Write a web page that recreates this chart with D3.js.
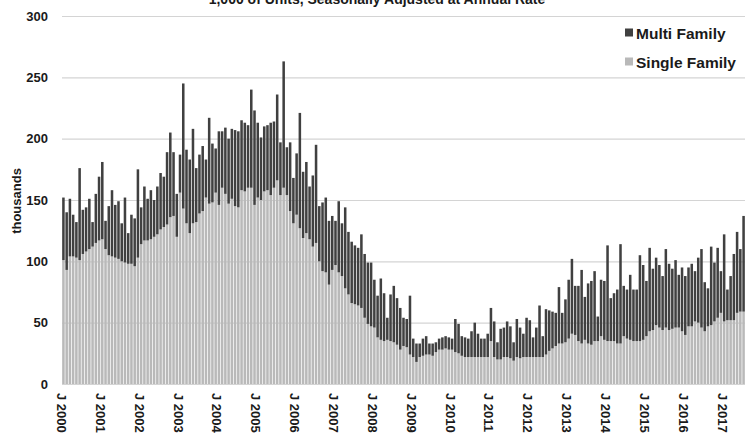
<!DOCTYPE html>
<html>
<head>
<meta charset="utf-8">
<script src="https://cdn.jsdelivr.net/npm/d3@7"></script>
<style>
body{margin:0;background:#fff}
svg{display:block;font-family:"Liberation Sans",Arial,sans-serif;font-weight:bold}
</style>
</head>
<body>
<svg width="747" height="434"></svg>
<script>
// monthly, Jan 2000 .. Jul 2017
var startYear = 2000
var yTicks = [0, 50, 100, 150, 200, 250, 300]
var seriesNames = ["Single Family", "Multi Family"]
var titleText = "1,000 of Units, Seasonally Adjusted at Annual Rate"

// total units (single + multi)
var allUnits = [
152,140,151,138,132,176,142,144,151,132,155,169,
181,133,145,158,146,149,131,152,123,138,135,175,
144,161,151,158,150,161,172,169,189,205,189,155,
187,245,191,183,208,176,187,194,183,217,196,192,
206,206,209,200,208,207,206,215,213,211,240,223,
213,201,210,211,213,214,236,197,263,193,197,168,
188,221,173,181,161,170,195,145,148,152,133,137,
133,149,131,144,124,116,113,111,122,106,99,99,
85,72,86,74,54,73,80,70,62,54,53,72,
37,33,33,37,39,33,33,34,37,38,39,38,
37,53,49,39,38,37,43,50,41,37,37,41,
62,51,34,45,46,51,47,34,53,46,41,54,
52,38,46,64,39,61,60,59,58,79,58,69,
85,102,80,80,93,71,82,84,92,55,85,84,
113,70,74,77,114,80,77,89,77,77,105,97,
84,111,94,103,97,88,110,98,94,101,89,95,
88,95,98,92,103,110,83,78,112,99,111,92,
122,77,88,106,124,110,137
]

var singleFamily = [
101,93,104,104,103,101,106,108,110,112,115,117,
118,110,105,104,103,102,100,99,98,98,96,103,
114,117,117,118,120,122,126,128,130,136,137,120,
156,143,131,123,131,132,139,141,152,147,148,156,
146,160,155,147,151,145,144,158,157,160,160,146,
152,150,157,158,154,160,166,154,160,154,141,131,
138,127,119,123,118,112,115,100,92,91,81,93,
97,91,88,78,73,66,65,64,62,54,49,47,
46,38,36,35,36,35,34,32,28,31,30,24,
22,18,22,23,24,24,23,26,28,28,29,28,
28,26,25,23,22,22,22,22,22,22,22,22,
35,22,20,20,22,22,21,19,22,21,22,22,
22,22,22,22,22,24,27,29,31,33,33,34,
37,41,40,35,33,36,33,32,35,35,39,36,
35,35,35,33,33,39,37,36,35,35,35,36,
39,43,44,48,46,44,46,44,45,46,46,43,
40,47,47,51,50,46,43,47,48,51,54,58,
51,52,52,52,58,59,59
]

var multiFamily = allUnits.map(function(d, i){ return d - singleFamily[i]; })
var months = allUnits.map(function(d, i){ return i; })

var colors = {"Single Family": "#b9b9b9", "Multi Family": "#404040"}

var svg = d3.select("svg")

var x = d3.scaleBand().domain(months).range([62, 745]).paddingInner(0.22).paddingOuter(0.05)
var y = d3.scaleLinear().domain([0, 300]).range([384, 16])

// gridlines + y labels
var yAxis = svg.append("g")
    .attr("transform", "translate(62,0)")
    .call(d3.axisLeft(y).tickValues(yTicks).tickSize(-683).tickPadding(14))
yAxis.select(".domain").remove()
yAxis.selectAll(".tick line").attr("stroke", "#d4d4d4").attr("stroke-width", 1.2)
yAxis.selectAll(".tick text")
    .attr("fill", "#1a1a1a")
    .style("font-size", "13px")
    .style("font-weight", "bold")

// stacked bars
var rows = months.map(function(i){
    return {"Single Family": singleFamily[i], "Multi Family": multiFamily[i], i: i}
})
var stacked = d3.stack().keys(seriesNames)(rows)

svg.append("g").selectAll("g")
    .data(stacked)
    .join("g")
    .attr("fill", function(d){ return colors[d.key]; })
    .selectAll("rect")
    .data(function(d){ return d; })
    .join("rect")
    .attr("x", function(d){ return x(d.data.i); })
    .attr("width", x.bandwidth())
    .attr("y", function(d){ return y(d[1]); })
    .attr("height", function(d){ return y(d[0]) - y(d[1]); })

// x labels, one per January
var janMonths = months.filter(function(i){ return i % 12 === 0; })
var xAxis = svg.append("g")
    .attr("transform", "translate(0,384)")
    .call(d3.axisBottom(x).tickValues(janMonths).tickSize(0)
        .tickFormat(function(i){ return "J " + (startYear + i / 12); }))
xAxis.select(".domain").remove()
xAxis.selectAll(".tick text")
    .attr("fill", "#1a1a1a")
    .style("font-size", "13px")
    .style("font-weight", "bold")
    .attr("text-anchor", "start")
    .attr("dy", null)
    .attr("y", 0)
    .attr("transform", "translate(-2,9) rotate(90)")
    .attr("dominant-baseline", "central")

// y title
svg.append("text")
    .attr("transform", "translate(16,201) rotate(-90)")
    .attr("text-anchor", "middle")
    .attr("dominant-baseline", "central")
    .attr("fill", "#1a1a1a")
    .style("font-size", "13px")
    .text("thousands")

// chart title (cut off at the top)
svg.append("text")
    .attr("x", 377)
    .attr("y", 4)
    .attr("text-anchor", "middle")
    .attr("fill", "#1a1a1a")
    .style("font-size", "14px")
    .text(titleText)

// legend
var legendItems = ["Multi Family", "Single Family"]
var legend = svg.append("g").selectAll("g")
    .data(legendItems)
    .join("g")
    .attr("transform", function(d, i){ return "translate(625," + (33 + i * 29) + ")"; })
legend.append("rect")
    .attr("x", 0).attr("y", -4.5).attr("width", 8).attr("height", 8)
    .attr("fill", function(d){ return colors[d]; })
legend.append("text")
    .attr("x", 11)
    .attr("dominant-baseline", "central")
    .attr("fill", "#1a1a1a")
    .style("font-size", "15.5px")
    .text(function(d){ return d; })
</script>
</body>
</html>
